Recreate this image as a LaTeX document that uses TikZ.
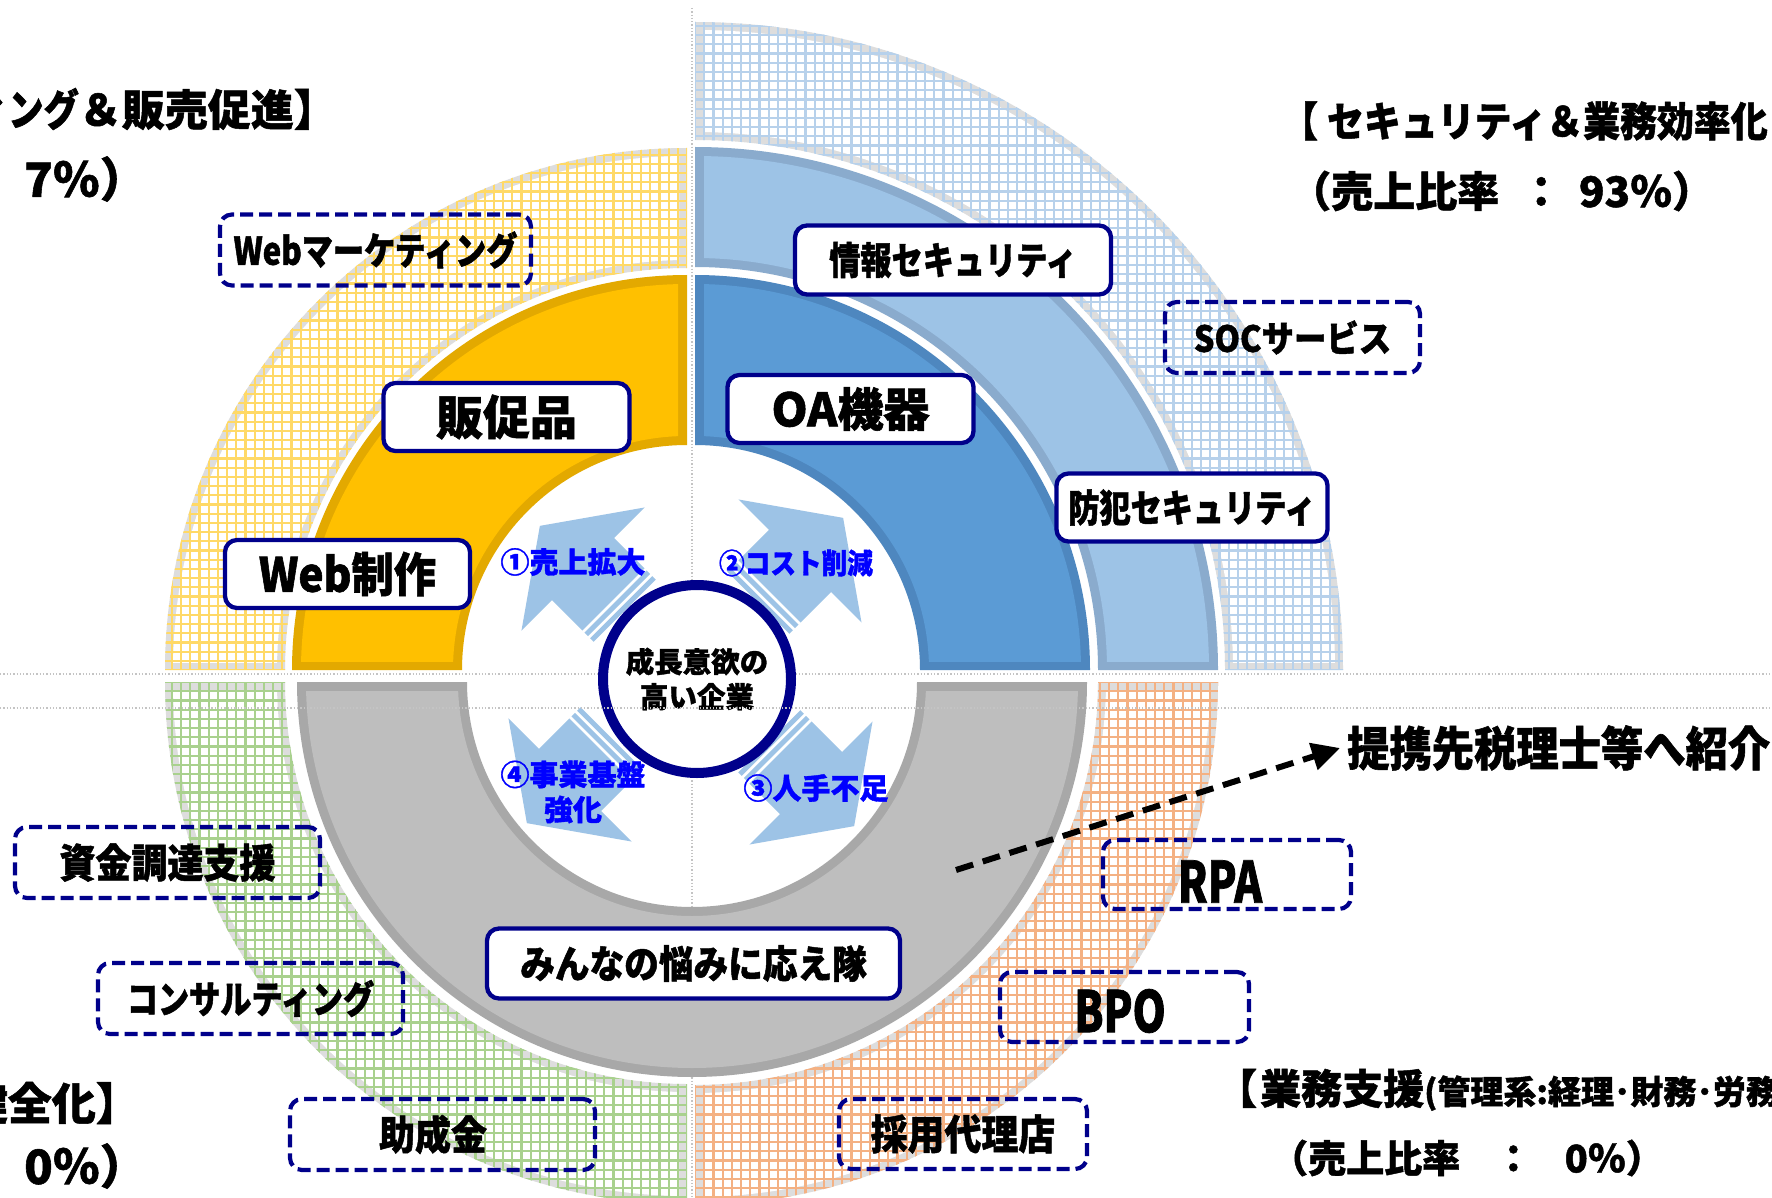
\documentclass[tikz,border=0pt]{standalone}
\usepackage{fontspec}
\newfontfamily\jpA{Noto Sans CJK JP}[BoldFeatures={FakeBold=1.2}]
\newfontfamily\jpB{Noto Sans CJK JP}[FakeStretch=0.9,BoldFeatures={FakeBold=1.2}]
\newfontfamily\jpC{Noto Sans CJK JP}[FakeStretch=0.82,BoldFeatures={FakeBold=1.2}]
\newfontfamily\jpD{Noto Sans CJK JP}[FakeStretch=0.74,BoldFeatures={FakeBold=1.2}]
\usetikzlibrary{arrows.meta}
\definecolor{navy}{HTML}{00008B}
\definecolor{yDark}{HTML}{E3A900}
\definecolor{yFill}{HTML}{FFC000}
\definecolor{bDark}{HTML}{4E87BF}
\definecolor{bFill}{HTML}{5B9BD5}
\definecolor{lbDark}{HTML}{8AABCD}
\definecolor{lbFill}{HTML}{9DC3E6}
\definecolor{gDark}{HTML}{A8A8A8}
\definecolor{gFill}{HTML}{BEBEBE}
\definecolor{hband}{HTML}{DDDDDD}
\definecolor{gridY}{HTML}{FFD966}
\definecolor{gridG}{HTML}{A9D18E}
\definecolor{gridO}{HTML}{F4B183}
\definecolor{gridB}{HTML}{B7D1EB}
\definecolor{arrowblue}{HTML}{9DC3E6}
\definecolor{labelblue}{HTML}{0000FF}
\definecolor{guide}{HTML}{C4C4C4}

\newcommand\fz[2]{\fontsize{#1}{#2}\selectfont\bfseries}
\newcommand\fillsec[7]{\fill[#7] ([shift={(#1,#2)}]#3:#6) arc[start angle=#3, end angle=#4, radius=#6] -- ([shift={(#1,#2)}]#4:#5) arc[start angle=#4, end angle=#3, radius=#5] -- cycle;}
\newcommand\clipsec[6]{\clip ([shift={(#1,#2)}]#3:#6) arc[start angle=#3, end angle=#4, radius=#6] -- ([shift={(#1,#2)}]#4:#5) arc[start angle=#4, end angle=#3, radius=#5] -- cycle;}
\newcommand\solidsec[9]{%
  \fillsec{#1}{#2}{#3}{#4}{#5}{#6}{#9Dark}
  \begin{scope}
   \clip ({#1+(#7)*9},{#2+(#8)*9}) rectangle ++({(#7)*800},{(#8)*800});
   \pgfmathsetmacro\ra{#5+9}\pgfmathsetmacro\rb{#6-9}
   \fillsec{#1}{#2}{#3}{#4}{\ra}{\rb}{#9Fill}
  \end{scope}}
\newcommand\hatchsec[9]{%
 \begin{scope}
  \clipsec{#1}{#2}{#3}{#4}{#5}{#6}
  \fill[hband] (#1,#2) rectangle ++({(#7)*800},{(#8)*800});
  \begin{scope}
   \clip ({#1+(#7)*8},{#2+(#8)*8}) rectangle ++({(#7)*800},{(#8)*800});
   \pgfmathsetmacro\ra{#5+8}\pgfmathsetmacro\rb{#6-8}
   \fillsec{#1}{#2}{#3}{#4}{\ra}{\rb}{white}
  \end{scope}
  \foreach \k in {0,...,72}{
    \draw[line width=2.2pt, #9] ({#1+(#7)*\k*9.2},#2) -- ++(0,{(#8)*800});
    \draw[line width=2.2pt, #9] (#1,{#2+(#8)*\k*9.2}) -- ++({(#7)*800},0);
  }
 \end{scope}}
\newcommand\bigarrow[3]{%
 \begin{scope}[shift={(#1,#2)}, rotate=#3]
  \fill[arrowblue] (0,87) -- (61,0) -- (0,-87) -- (0,-44) -- (-43,-44) -- (-43,44) -- (0,44) -- cycle;
  \fill[arrowblue] (-46,-44) rectangle (-51,44);
  \fill[arrowblue] (-54,-44) rectangle (-59,44);
 \end{scope}}

\begin{document}
\begin{tikzpicture}[x=1pt,y=-1pt,
  solidbox/.style={draw=navy, line width=4.3pt, rounded corners=12pt, fill=white, inner sep=0pt, align=center, text=black},
  dashbox/.style={draw=navy, line width=4.2pt, dash pattern=on 13pt off 6pt, rounded corners=12pt, inner sep=0pt, align=center, text=black},
  txt/.style={inner sep=0pt, text=black},
  lab/.style={inner sep=0pt, text=labelblue, align=center},
  guideline/.style={guide, line width=1.3pt, dotted}
]
\useasboundingbox (0,0) rectangle (1772,1198);
\fill[white] (0,0) rectangle (1772,1198);

% guide lines
\draw[guideline] (692,8) -- (692,1198);
\draw[guideline] (0,674) -- (1772,674);

% solid rings
\solidsec{687}{670}{180}{270}{225}{395}{-1}{-1}{y}
\solidsec{695}{670}{270}{360}{225}{395}{1}{-1}{b}
\solidsec{695}{670}{270}{360}{403}{523}{1}{-1}{lb}
\fillsec{692}{682}{0}{180}{225}{395}{gDark}
\begin{scope}
  \clip (0,691) rectangle (1772,1198);
  \fillsec{692}{682}{0}{180}{234}{386}{gFill}
\end{scope}

% hatched rings
\hatchsec{687}{670}{180}{270}{402}{522}{-1}{-1}{gridY}
\hatchsec{695}{670}{270}{360}{530}{648}{1}{-1}{gridB}
\hatchsec{687}{682}{90}{180}{402}{522}{-1}{1}{gridG}
\hatchsec{695}{682}{0}{90}{403}{523}{1}{1}{gridO}

% block arrows
\bigarrow{583}{569}{135}
\bigarrow{800}{561}{45}
\bigarrow{811}{783}{-45}
\bigarrow{570}{780}{225}

% centre
\node[circle, draw=navy, line width=10pt, fill=white, minimum size=188pt, inner sep=0pt, align=center, text=black, font={\jpA\fz{28.5}{35}}] (core) at (697,679) {成長意欲の\\高い企業};

% arrow labels
\node[lab, font={\jpA\fz{29}{35}}] (l1) at (573,562) {①売上拡大};
\node[lab, font={\jpB\fz{28.5}{35}}] (l2) at (796,563) {②コスト削減};
\node[lab, font={\jpA\fz{29}{35}}] (l3) at (816,788) {③人手不足};
\node[lab, font={\jpA\fz{29}{35}}] (l4) at (573,792) {④事業基盤\\強化};

% solid boxes
\node[solidbox, minimum width=246pt, minimum height=68pt, font={\jpA\fz{47}{50}}] (hansoku) at (506.5,417) {販促品};
\node[solidbox, minimum width=245pt, minimum height=68pt, font={\jpB\fz{47}{50}}] (webseisaku) at (347.5,574) {Web制作};
\node[solidbox, minimum width=316pt, minimum height=69pt, font={\jpC\fz{38}{40}}] (joho) at (953,260) {情報セキュリティ};
\node[solidbox, minimum width=246pt, minimum height=68pt, font={\jpA\fz{46}{50}}] (oa) at (850.5,409) {OA機器};
\node[solidbox, minimum width=271pt, minimum height=68pt, font={\jpC\fz{38}{40}}] (bohan) at (1192,507.5) {防犯セキュリティ};
\node[solidbox, minimum width=413pt, minimum height=70pt, font={\jpB\fz{38.5}{40}}] (minna) at (693.5,963.5) {みんなの悩みに応え隊};

% dashed boxes
\node[dashbox, minimum width=311pt, minimum height=71pt, font={\jpC\fz{38}{40}}] (webmk) at (375.5,250) {Webマーケティング};
\node[dashbox, minimum width=255pt, minimum height=71pt, font={\jpB\fz{36}{40}}] (soc) at (1292.5,337.5) {SOCサービス};
\node[dashbox, minimum width=305pt, minimum height=71pt, font={\jpB\fz{40}{40}}] (shikin) at (167.5,862.5) {資金調達支援};
\node[dashbox, minimum width=305pt, minimum height=71pt, font={\jpC\fz{38}{40}}] (consul) at (250.5,998.5) {コンサルティング};
\node[dashbox, minimum width=305pt, minimum height=71pt] (josei) at (442.5,1134.5) {};
\node[txt, font={\jpB\fz{40}{40}}] (joseit) at (433,1134.5) {助成金};
\node[dashbox, minimum width=248pt, minimum height=70pt, font={\jpB\fz{41}{40}}] (saiyo) at (963,1134) {採用代理店};
\node[dashbox, minimum width=248pt, minimum height=69pt] (rpa) at (1227,874.5) {};
\node[txt, font={\jpD\fz{57}{57}}] (rpat) at (1220,881.5) {RPA};
\node[dashbox, minimum width=249pt, minimum height=70pt] (bpo) at (1124.5,1007) {};
\node[txt, font={\jpD\fz{57}{57}}] (bpot) at (1120,1011) {BPO};

% titles
\node[txt, anchor=east, font={\jpA\fz{43}{43}}] (tl1) at (337,109) {{\jpC ィング}＆販売促進】};
\node[txt, anchor=west, font={\jpA\fz{47}{47}}] (tl2) at (24,179) {7％）};
\node[txt, anchor=west, font={\jpB\fz{41}{41}}] (tr1) at (1281,121) {【\hspace{9pt}セキュリティ＆業務効率化};
\node[txt, anchor=west, font={\jpA\fz{42}{42}}] (tr2) at (1289,191) {（売上比率\hspace{0.5em}：\hspace{0.4em}93％）};
\node[txt, anchor=east, font={\jpA\fz{44}{44}}] (bl1) at (140,1103) {健全化】};
\node[txt, anchor=west, font={\jpA\fz{47}{47}}] (bl2) at (24,1166) {0％）};
\node[txt, anchor=base west, font={\jpA\fz{41}{41}}] (br1) at (1216,1104) {【\hspace{3pt}業務支援{\fontsize{33}{33}\selectfont(管理系:経理･財務･労務}};
\node[txt, anchor=west, font={\jpA\fz{38}{38}}] (br2) at (1270,1158) {（売上比率\hspace{0.9em}：\hspace{0.85em}0％）};
\node[txt, anchor=west, font={\jpB\fz{47}{47}}] (tax) at (1347,748) {提携先税理士等へ紹介};

% dashed connector
\coordinate (dstart) at (956,870);
\draw[line width=6pt, dash pattern=on 18pt off 10pt, -{Triangle[length=28pt,width=27pt]}] (dstart) -- ([xshift=-7pt]tax.west);

\draw[guideline] (0,708) -- (1772,708);
\end{tikzpicture}
\end{document}
